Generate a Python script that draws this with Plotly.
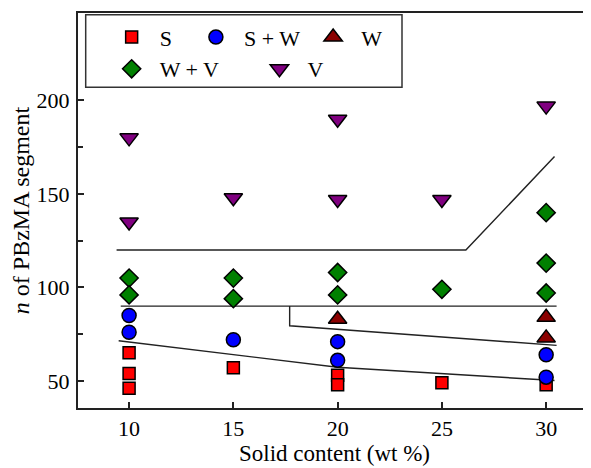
import plotly.graph_objects as go

# ---- data ----
s_x = [10, 10, 10, 15, 20, 20, 25, 30]
s_y = [65, 54, 46, 57, 53, 48, 49, 48]
sw_x = [10, 10, 15, 20, 20, 30, 30]
sw_y = [85, 76, 72, 71, 61, 64, 52]
w_x = [20, 30, 30]
w_y = [83, 84, 73]
wv_x = [10, 10, 15, 15, 20, 20, 25, 30, 30, 30]
wv_y = [105, 96, 105, 94, 108, 96, 99, 140, 113, 97]
v_x = [10, 10, 15, 20, 20, 25, 30]
v_y = [180, 135, 148, 190, 147, 147, 197]

# phase boundary lines
b1_x = [9.5, 20, 30.4]
b1_y = [71.5, 57.3, 50.2]
b2_x = [9.6, 30.5]
b2_y = [90, 90]
b3_x = [17.7, 17.7, 30.5]
b3_y = [90, 79.5, 69]
b4_x = [9.4, 26.15, 30.4]
b4_y = [120, 120, 170]

x_ticks = [10, 15, 20, 25, 30]
y_ticks = [50, 100, 150, 200]

NB = "\u00a0"
FONT = "'Liberation Serif', 'Times New Roman', 'DejaVu Serif', serif"

fig = go.Figure()

for bx, by in [(b1_x, b1_y), (b2_x, b2_y), (b3_x, b3_y), (b4_x, b4_y)]:
    fig.add_trace(go.Scatter(x=bx, y=by, mode="lines", showlegend=False,
                             line=dict(color="#222222", width=1.4),
                             hoverinfo="skip"))

mk_line = dict(color="black", width=1.5)
fig.add_trace(go.Scatter(x=s_x, y=s_y, mode="markers", name="S" + NB * 2,
                         legend="legend",
                         marker=dict(symbol="square", size=12, color="#FF0000", line=mk_line)))
fig.add_trace(go.Scatter(x=sw_x, y=sw_y, mode="markers", name="S + W",
                         legend="legend",
                         marker=dict(symbol="circle", size=14, color="#0000FF", line=mk_line)))
fig.add_trace(go.Scatter(x=w_x, y=w_y, mode="markers", name="W",
                         legend="legend",
                         marker=dict(symbol="triangle-up", size=16, color="#8B0000", line=mk_line)))
fig.add_trace(go.Scatter(x=wv_x, y=wv_y, mode="markers", name="W + V" + NB * 5,
                         legend="legend2",
                         marker=dict(symbol="diamond", size=14, color="#008000", line=mk_line)))
fig.add_trace(go.Scatter(x=v_x, y=v_y, mode="markers", name="V",
                         legend="legend2",
                         marker=dict(symbol="triangle-down", size=16, color="#800080", line=mk_line)))

legend_common = dict(orientation="h", xanchor="left", yanchor="middle",
                     bgcolor="rgba(0,0,0,0)", borderwidth=0, itemwidth=46,
                     font=dict(family=FONT, size=22, color="black"),
                     traceorder="normal")

fig.update_layout(
    width=583, height=460,
    margin=dict(l=70, r=0, t=5, b=60, autoexpand=False),
    paper_bgcolor="white", plot_bgcolor="white",
    font=dict(family=FONT, size=22, color="black"),
    legend=dict(x=0.05, y=(408 - 37.3) / 395, **legend_common),
    legend2=dict(x=0.05, y=(408 - 69) / 395, **legend_common),
    xaxis=dict(range=[7.55, 32.15], tickvals=x_ticks, ticks="inside", ticklen=6,
               tickwidth=1.5, tickcolor="#222222", showline=True, linewidth=2,
               linecolor="#222222", mirror=True, showgrid=False, zeroline=False,
               automargin=False,
               tickfont=dict(family=FONT, size=22, color="black"),
               title=dict(text="Solid content (wt %)", standoff=0,
                          font=dict(family=FONT, size=23, color="black"))),
    yaxis=dict(range=[35.5, 246.8], tickvals=y_ticks, ticks="inside", ticklen=6,
               tickwidth=1.5, tickcolor="#222222", showline=True, linewidth=2,
               linecolor="#222222", mirror=False, showgrid=False, zeroline=False,
               automargin=False, ticklabelstandoff=2,
               tickfont=dict(family=FONT, size=22, color="black"),
               minor=dict(tickvals=[75, 125, 175], ticks="inside", ticklen=5,
                          tickwidth=1.5, tickcolor="#222222", showgrid=False),
               title=dict(text="<i>n</i> of PBzMA segment", standoff=8,
                          font=dict(family=FONT, size=24, color="black"))),
    shapes=[dict(type="rect", xref="paper", yref="paper",
                 x0=(85.7 - 78) / 513, x1=(402 - 78) / 513,
                 y0=(408 - 87.3) / 395, y1=(408 - 14.7) / 395,
                 line=dict(color="#333333", width=1.5), fillcolor="rgba(0,0,0,0)")],
)

fig.write_html("out.html")
